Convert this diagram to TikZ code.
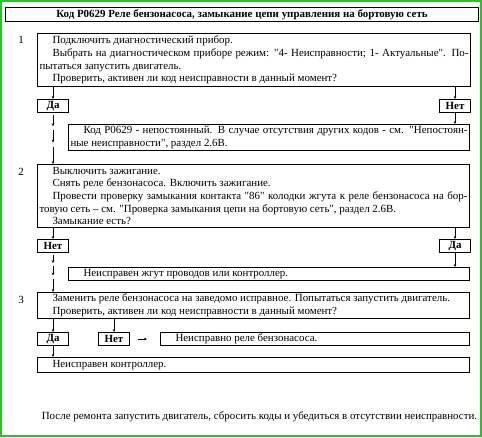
\documentclass[tikz,border=0pt]{standalone}
\usepackage{fontspec}
\setmainfont{Liberation Serif}
\usetikzlibrary{arrows.meta,calc}

\tikzset{frame/.style = {
    draw,
    line width = 1pt,
    anchor = north west,
    inner xsep = 2pt,
    inner ysep = 0pt,
    align = justify,
}}
\tikzset{answer/.style = {
    draw,
    line width = 1pt,
    anchor = north west,
    minimum width = 31pt,
    minimum height = 13pt,
    inner sep = 0pt,
    font = \bfseries,
}}
\tikzset{flow/.style = {-{Stealth[length=3pt,width=2.6pt]}, line width=0.6pt}}
\definecolor{Edge}{HTML}{2EBE2E}
\newcommand\abz{\par\hspace*{13pt}}
\newcommand\qq{\XeTeXglyph\XeTeXcharglyph"22\relax}

\begin{document}
\begin{tikzpicture}[x=1pt,y=-1pt]
  \fontsize{10.93}{12.6}\selectfont
  \useasboundingbox (0,0) rectangle (482,437);
  \draw[Edge,line width=2pt] (1,1) rectangle (481,436);
  % header
  \node[frame,minimum width=473pt,minimum height=14pt,align=center,font=\bfseries](title) at (5,7)
    {Код P0629 Реле бензонасоса, замыкание цепи управления на бортовую сеть};
  % step 1
  \node(n1) at (21,40) {1};
  \node[frame,text width=429pt,minimum height=53pt](s1) at (37,33)
    {\hspace*{13pt}Подключить диагностический прибор.\abz Выбрать на диагностическом приборе режим: \qq4- Неисправности; 1- Актуальные\qq. По-\linebreak пытаться запустить двигатель.\abz Проверить, активен ли код неисправности в данный момент?};
  \node[answer](y1) at (37,99) {Да};
  \node[answer](f1) at (439,99) {Нет};
  \node[frame,text width=397pt,minimum height=26pt](r1) at (68,124)
    {\hspace*{13pt}Код P0629 - непостоянный. В случае отсутствия других кодов - см. \qq Непостоян-\linebreak ные неисправности\qq, раздел 2.6В.};
  % step 2
  \node(n2) at (21,172) {2};
  \node[frame,text width=428pt,minimum height=63pt](s2) at (37,164)
    {\hspace*{13pt}Выключить зажигание.\abz Снять реле бензонасоса. Включить зажигание.\abz Провести проверку замыкания контакта \qq86\qq{} колодки жгута к реле бензонасоса на бор-\linebreak товую сеть – см. \qq Проверка замыкания цепи на бортовую сеть\qq, раздел 2.6В.\abz Замыкание есть?};
  \node[answer](f2) at (37,239) {Нет};
  \node[answer](y2) at (439,239) {Да};
  \node[frame,text width=397pt,minimum height=13pt](r2) at (68,267)
    {\hspace*{13pt}Неисправен жгут проводов или контроллер.};
  % step 3
  \node(n3) at (21,300) {3};
  \node[frame,text width=428pt,minimum height=26pt](s3) at (37,292)
    {\hspace*{13pt}Заменить реле бензонасоса на заведомо исправное. Попытаться запустить двигатель.\abz Проверить, активен ли код неисправности в данный момент?};
  \node[answer](y3) at (37,332) {Да};
  \node[answer](f3) at (98,332) {Нет};
  \node[frame,text width=305pt,minimum height=13pt](r3) at (160,332)
    {\hspace*{13pt}Неисправно реле бензонасоса.};
  \node[frame,text width=428pt,minimum height=15pt](r4) at (37,357)
    {\hspace*{13pt}Неисправен контроллер.};
  \node[anchor=west](tail) at (38,417)
    {После ремонта запустить двигатель, сбросить коды и убедиться в отсутствии неисправности.};
  % arrows
  \draw[flow](s1.south -| y1) -- (y1.north);
  \draw[flow](s1.south -| f1) -- (f1.north);
  \draw[flow](f1.south) -- (f1.south |- r1.north);
  \draw[flow](s2.south -| f2) -- (f2.north);
  \draw[flow](s2.south -| y2) -- (y2.north);
  \draw[flow](y2.south) -- (y2.south |- r2.north);
  \foreach \a/\b in {0.04/0.26, 0.34/0.58, 0.66/1}{
    \draw[flow]($(y1.south)!\a!(y1.south |- s2.north)$) -- ($(y1.south)!\b!(y1.south |- s2.north)$);
    \draw[flow]($(f2.south)!\a!(f2.south |- s3.north)$) -- ($(f2.south)!\b!(f2.south |- s3.north)$);
  }
  \draw[flow](s3.south -| y3) -- (y3.north);
  \draw[flow](s3.south -| f3) -- (f3.north);
  \draw[flow,shorten <=8pt,shorten >=13pt](f3.east) -- (r3.west);
  \draw[flow](y3.south) -- (y3.south |- r4.north);
\end{tikzpicture}
\end{document}
